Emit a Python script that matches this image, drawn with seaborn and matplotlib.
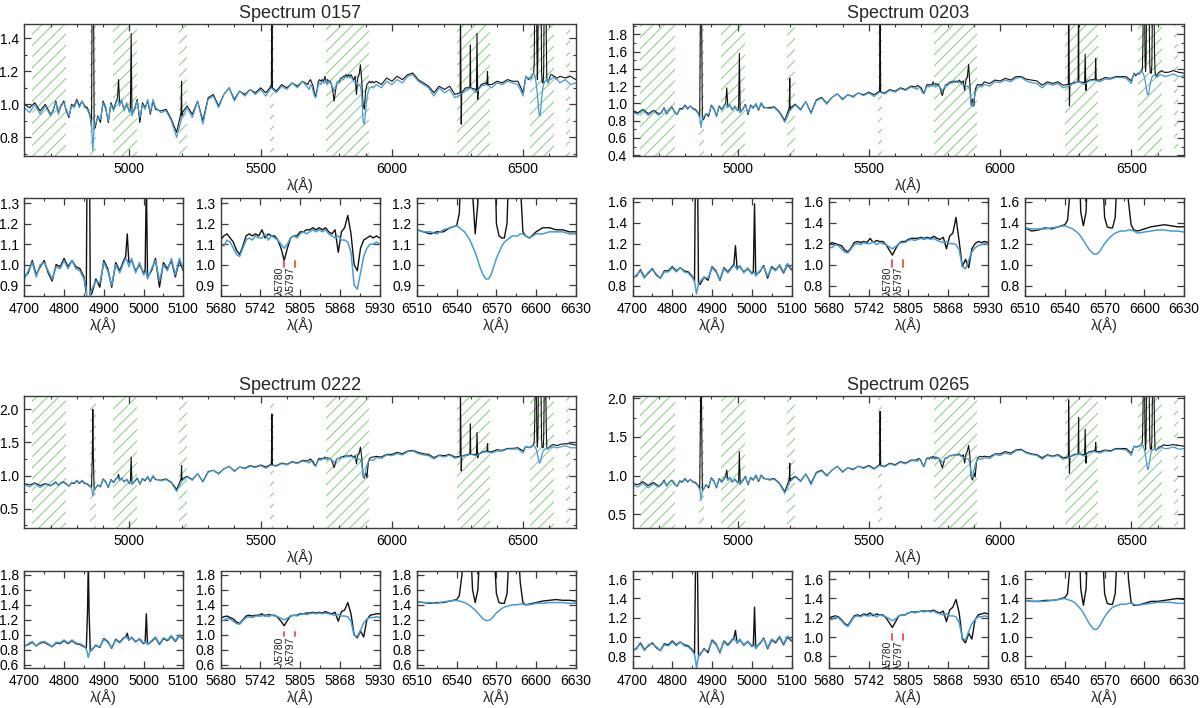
import numpy as np
import matplotlib
matplotlib.use("Agg")
import matplotlib.pyplot as plt
import seaborn as sns
from matplotlib.ticker import MultipleLocator, AutoMinorLocator, FixedLocator, FixedFormatter, FormatStrFormatter

sns.set_theme(style="ticks")
plt.rcParams["font.family"] = ["Liberation Sans", "DejaVu Sans"]
plt.rcParams["hatch.linewidth"] = 0.9
plt.rcParams["hatch.color"] = "#9fd49a"

# ---------------- wavelength grids (Angstrom) ----------------
wave_cont = np.concatenate([np.arange(4600, 4681, 20), np.arange(5120, 5661, 20),
                            np.arange(5940, 6501, 20), np.arange(6640, 6701, 20)])
wave_hb = np.array([4700, 4710, 4720, 4730, 4740, 4750, 4760, 4770, 4780, 4790, 4800, 4810, 4820, 4830, 4840, 4850,
                    4856, 4859, 4861, 4863, 4866,
                    4870, 4880, 4890, 4900, 4910, 4920, 4930, 4940, 4950,
                    4955, 4959, 4963,
                    4970, 4980, 4990, 5000,
                    5004, 5007, 5010,
                    5020, 5030, 5040, 5050, 5060, 5070, 5080, 5090, 5100])
wave_dib = np.arange(5680, 5931, 5)
wave_ha = np.concatenate([np.arange(6510, 6541, 5), np.arange(6542, 6593, 2), np.arange(6595, 6631, 5)])
wave_lines = np.array([5197, 5199, 5201, 5541, 5543, 5545, 6259, 6261, 6264, 6266,
                       6297, 6299, 6301, 6322, 6324, 6327, 6329, 6362, 6364, 6366])

# masked (hatched) wavelength intervals
mask_lo = [4630, 4852, 4938, 5188, 5535, 5748, 6248, 6527, 6663]
mask_hi = [4760, 4872, 5030, 5220, 5552, 5912, 6372, 6618, 6677]

# diffuse interstellar bands marked in the middle zoom
dib_wave = [5780, 5797]
dib_label = ["λ5780", "λ5797"]

# ---------------- Spectrum 0157 ----------------
model_0157_cont = [0.98, 0.95, 1.00, 0.94, 0.99,
                   0.95, 0.96, 0.90, 0.80, 0.92, 0.98, 0.92, 1.02, 0.88, 1.03, 1.05, 0.98, 1.06, 1.10,
                   1.02, 1.08, 1.05, 1.09, 1.06, 1.09, 1.05, 1.10, 1.07, 1.11, 1.09, 1.13, 1.10, 1.14,
                   1.12, 1.10, 1.14, 1.12, 1.15, 1.13, 1.17, 1.18, 1.14, 1.12, 1.10, 1.05, 1.10, 1.07, 1.09,
                   1.04, 1.06, 1.08, 1.10, 1.07, 1.11, 1.12, 1.10, 1.13, 1.12, 1.14, 1.13, 1.12, 1.05,
                   1.13, 1.15, 1.12, 1.13]
obs_0157_cont = [1.00, 0.98, 1.01, 0.96, 1.00,
                 0.96, 0.97, 0.91, 0.83, 0.93, 0.99, 0.94, 1.02, 0.90, 1.04, 1.06, 0.99, 1.06, 1.10,
                 1.03, 1.08, 1.06, 1.09, 1.07, 1.10, 1.07, 1.11, 1.08, 1.12, 1.10, 1.13, 1.11, 1.14,
                 1.14, 1.12, 1.16, 1.14, 1.17, 1.15, 1.18, 1.19, 1.15, 1.13, 1.11, 1.07, 1.11, 1.09, 1.11,
                 1.06, 1.08, 1.10, 1.11, 1.09, 1.12, 1.13, 1.12, 1.14, 1.13, 1.15, 1.14, 1.14, 1.07,
                 1.17, 1.16, 1.17, 1.15]
model_0157_hb = [0.93, 0.97, 1.01, 0.94, 1.00, 1.01, 0.97, 0.93, 0.99, 0.98, 1.02, 0.98, 1.02, 0.98, 0.97, 0.93,
                 0.88, 0.79, 0.72, 0.78, 0.86,
                 0.88, 0.92, 0.91, 1.01, 0.97, 0.90, 1.00, 0.96, 1.01,
                 1.03, 1.02, 0.99,
                 1.03, 0.96, 1.01, 0.95,
                 0.96, 0.97, 0.93,
                 0.98, 1.02, 0.92, 1.00, 0.97, 1.03, 0.95, 1.03, 0.98]
obs_0157_hb = [0.94, 0.96, 1.02, 0.95, 0.99, 1.02, 0.96, 0.92, 1.00, 0.99, 1.03, 0.99, 1.02, 0.99, 0.98, 0.94,
               0.86, 1.90, 2.30, 1.90, 0.85,
               0.86, 0.93, 0.89, 1.02, 0.98, 0.89, 1.01, 0.97, 1.02,
               1.04, 1.15, 1.01,
               1.02, 0.97, 1.00, 0.96,
               0.97, 1.43, 0.94,
               0.97, 1.03, 0.89, 1.01, 0.98, 1.02, 0.94, 1.02, 0.97]
model_0157_dib = [1.10, 1.09, 1.12, 1.11, 1.08, 1.05, 1.04, 1.08, 1.12, 1.13,
                  1.12, 1.14, 1.13, 1.13, 1.15, 1.12, 1.14, 1.13, 1.12, 1.10,
                  1.08, 1.10, 1.13, 1.14, 1.13, 1.15, 1.16, 1.15, 1.16, 1.17,
                  1.16, 1.17, 1.16, 1.17, 1.15, 1.14, 1.13, 1.14, 1.12, 1.12,
                  1.11, 1.06, 0.90, 0.88, 0.96, 1.04, 1.08, 1.10, 1.10, 1.11,
                  1.10]
obs_0157_dib = [1.12, 1.14, 1.15, 1.13, 1.11, 1.07, 1.05, 1.09, 1.14, 1.15,
                1.14, 1.15, 1.14, 1.17, 1.13, 1.15, 1.14, 1.14, 1.12, 1.08,
                1.02, 1.08, 1.13, 1.14, 1.14, 1.16, 1.16, 1.17, 1.17, 1.18,
                1.17, 1.18, 1.17, 1.18, 1.16, 1.15, 1.17, 1.06, 1.16, 1.18,
                1.24, 1.15, 1.00, 0.97, 1.08, 1.12, 1.13, 1.14, 1.13, 1.14,
                1.13]
model_0157_ha = [1.17, 1.16, 1.16, 1.15, 1.17, 1.18, 1.19,
                 1.18, 1.17, 1.16, 1.14, 1.12, 1.09, 1.06, 1.02, 0.98, 0.95, 0.93, 0.93, 0.95,
                 0.99, 1.03, 1.06, 1.09, 1.11, 1.12, 1.13, 1.14, 1.14, 1.14, 1.15, 1.15, 1.14,
                 1.13, 1.15, 1.15, 1.16, 1.16, 1.16, 1.15, 1.15]
obs_0157_ha = [1.17, 1.16, 1.15, 1.16, 1.16, 1.18, 1.19,
               1.25, 1.60, 2.50, 3.00, 2.20, 1.35, 1.15, 1.30, 2.00, 3.00, 3.50, 3.50, 3.00,
               1.80, 1.20, 1.14, 1.13, 1.13, 1.20, 1.60, 3.00, 3.00, 2.00, 1.40, 1.16, 1.14,
               1.13, 1.16, 1.18, 1.18, 1.17, 1.17, 1.16, 1.16]
obs_0157_lines = [0.95, 1.14, 0.95, 1.10, 1.65, 1.10, 1.07, 1.65, 0.88, 1.07,
                  1.10, 1.36, 1.10, 1.08, 1.43, 1.03, 1.09, 1.12, 1.20, 1.12]

# ---------------- Spectrum 0203 ----------------
model_0203_cont = [0.90, 0.87, 0.92, 0.86, 0.91,
                   0.94, 0.95, 0.89, 0.78, 0.92, 0.98, 0.92, 1.02, 0.88, 1.03, 1.06, 0.99, 1.07, 1.11,
                   1.04, 1.10, 1.07, 1.12, 1.09, 1.12, 1.08, 1.13, 1.11, 1.15, 1.13, 1.17, 1.15, 1.19,
                   1.22, 1.20, 1.25, 1.24, 1.27, 1.25, 1.29, 1.30, 1.26, 1.24, 1.23, 1.18, 1.23, 1.21, 1.23,
                   1.18, 1.20, 1.23, 1.25, 1.22, 1.26, 1.27, 1.25, 1.28, 1.28, 1.30, 1.30, 1.29, 1.23,
                   1.32, 1.34, 1.31, 1.32]
obs_0203_cont = [0.92, 0.89, 0.93, 0.88, 0.92,
                 0.95, 0.96, 0.90, 0.80, 0.93, 0.99, 0.93, 1.02, 0.89, 1.04, 1.07, 1.00, 1.07, 1.11,
                 1.05, 1.10, 1.08, 1.12, 1.10, 1.13, 1.10, 1.14, 1.12, 1.16, 1.14, 1.18, 1.16, 1.20,
                 1.25, 1.23, 1.27, 1.26, 1.29, 1.27, 1.31, 1.31, 1.28, 1.27, 1.26, 1.21, 1.25, 1.23, 1.25,
                 1.21, 1.22, 1.24, 1.26, 1.24, 1.27, 1.28, 1.27, 1.30, 1.29, 1.31, 1.31, 1.31, 1.26,
                 1.36, 1.38, 1.36, 1.35]
model_0203_hb = [0.86, 0.90, 0.94, 0.87, 0.93, 0.95, 0.91, 0.87, 0.93, 0.93, 0.97, 0.93, 0.97, 0.93, 0.92, 0.88,
                 0.84, 0.77, 0.72, 0.76, 0.82,
                 0.84, 0.88, 0.87, 0.97, 0.93, 0.86, 0.96, 0.92, 0.97,
                 0.99, 0.98, 0.95,
                 0.99, 0.92, 0.97, 0.91,
                 0.92, 0.93, 0.89,
                 0.94, 0.98, 0.89, 0.97, 0.94, 1.00, 0.93, 1.01, 0.96]
obs_0203_hb = [0.88, 0.89, 0.95, 0.88, 0.92, 0.96, 0.90, 0.87, 0.94, 0.94, 0.98, 0.94, 0.97, 0.94, 0.93, 0.89,
               0.84, 2.20, 2.80, 2.20, 0.82,
               0.81, 0.88, 0.85, 0.98, 0.94, 0.85, 0.97, 0.93, 0.98,
               1.00, 1.18, 0.97,
               0.98, 0.93, 0.96, 0.92,
               0.93, 1.58, 0.90,
               0.93, 0.99, 0.87, 0.98, 0.95, 0.99, 0.92, 1.00, 0.95]
model_0203_dib = [1.17, 1.16, 1.19, 1.18, 1.15, 1.12, 1.11, 1.15, 1.19, 1.20,
                  1.19, 1.21, 1.20, 1.20, 1.22, 1.19, 1.21, 1.20, 1.19, 1.17,
                  1.15, 1.17, 1.20, 1.21, 1.21, 1.23, 1.24, 1.23, 1.24, 1.25,
                  1.24, 1.25, 1.24, 1.25, 1.23, 1.22, 1.21, 1.22, 1.20, 1.20,
                  1.19, 1.14, 0.98, 0.96, 1.04, 1.12, 1.16, 1.18, 1.19, 1.20,
                  1.19]
obs_0203_dib = [1.19, 1.21, 1.20, 1.19, 1.18, 1.14, 1.12, 1.16, 1.21, 1.22,
                1.21, 1.22, 1.21, 1.25, 1.21, 1.23, 1.22, 1.22, 1.19, 1.14,
                1.09, 1.15, 1.20, 1.22, 1.22, 1.24, 1.25, 1.25, 1.25, 1.26,
                1.25, 1.26, 1.25, 1.27, 1.25, 1.24, 1.26, 1.15, 1.27, 1.30,
                1.45, 1.22, 0.98, 1.05, 0.97, 1.15, 1.20, 1.22, 1.21, 1.22,
                1.21]
model_0203_ha = [1.35, 1.34, 1.34, 1.34, 1.35, 1.36, 1.37,
                 1.36, 1.35, 1.34, 1.32, 1.30, 1.27, 1.23, 1.19, 1.15, 1.12, 1.10, 1.10, 1.12,
                 1.16, 1.20, 1.23, 1.26, 1.28, 1.30, 1.31, 1.32, 1.32, 1.32, 1.33, 1.33, 1.32,
                 1.30, 1.31, 1.32, 1.33, 1.33, 1.32, 1.32, 1.31]
obs_0203_ha = [1.35, 1.32, 1.33, 1.35, 1.34, 1.36, 1.38,
               1.42, 1.70, 2.50, 3.00, 2.30, 1.50, 1.37, 1.50, 2.20, 3.00, 3.50, 3.50, 3.00,
               2.00, 1.45, 1.36, 1.35, 1.35, 1.45, 2.00, 3.00, 3.00, 2.20, 1.60, 1.38, 1.33,
               1.32, 1.34, 1.36, 1.37, 1.38, 1.37, 1.36, 1.36]
obs_0203_lines = [0.95, 1.29, 0.95, 1.13, 2.30, 1.13, 1.22, 2.50, 0.97, 1.22,
                  1.25, 2.40, 1.25, 1.24, 1.57, 1.15, 1.25, 1.27, 1.52, 1.27]

# ---------------- Spectrum 0222 ----------------
model_0222_cont = [0.86, 0.83, 0.88, 0.82, 0.87,
                   0.92, 0.94, 0.89, 0.76, 0.92, 0.98, 0.93, 1.03, 0.90, 1.05, 1.08, 1.02, 1.10, 1.14,
                   1.06, 1.13, 1.10, 1.14, 1.12, 1.15, 1.11, 1.16, 1.14, 1.18, 1.16, 1.20, 1.18, 1.22,
                   1.27, 1.26, 1.31, 1.30, 1.33, 1.31, 1.36, 1.37, 1.33, 1.31, 1.30, 1.25, 1.30, 1.28, 1.31,
                   1.26, 1.28, 1.30, 1.32, 1.30, 1.34, 1.36, 1.34, 1.37, 1.37, 1.40, 1.40, 1.40, 1.34,
                   1.43, 1.45, 1.42, 1.42]
obs_0222_cont = [0.88, 0.86, 0.89, 0.85, 0.88,
                 0.93, 0.95, 0.90, 0.79, 0.93, 0.99, 0.94, 1.03, 0.91, 1.06, 1.08, 1.03, 1.10, 1.14,
                 1.07, 1.13, 1.11, 1.15, 1.13, 1.16, 1.13, 1.17, 1.15, 1.19, 1.17, 1.21, 1.19, 1.23,
                 1.29, 1.28, 1.32, 1.32, 1.35, 1.33, 1.37, 1.38, 1.35, 1.33, 1.32, 1.27, 1.31, 1.30, 1.32,
                 1.28, 1.29, 1.31, 1.33, 1.32, 1.35, 1.37, 1.36, 1.39, 1.38, 1.41, 1.41, 1.42, 1.37,
                 1.47, 1.48, 1.48, 1.46]
model_0222_hb = [0.84, 0.88, 0.91, 0.85, 0.90, 0.91, 0.88, 0.84, 0.90, 0.89, 0.93, 0.89, 0.93, 0.89, 0.88, 0.85,
                 0.81, 0.75, 0.70, 0.74, 0.79,
                 0.81, 0.85, 0.84, 0.94, 0.90, 0.83, 0.93, 0.89, 0.95,
                 0.97, 0.96, 0.93,
                 0.97, 0.90, 0.95, 0.89,
                 0.90, 0.91, 0.87,
                 0.92, 0.97, 0.88, 0.96, 0.93, 0.99, 0.92, 1.00, 0.95]
obs_0222_hb = [0.85, 0.87, 0.90, 0.85, 0.89, 0.90, 0.87, 0.84, 0.89, 0.88, 0.92, 0.88, 0.92, 0.88, 0.87, 0.84,
               0.82, 1.30, 2.00, 1.30, 0.78,
               0.80, 0.86, 0.83, 0.95, 0.91, 0.82, 0.94, 0.90, 0.96,
               0.97, 1.02, 0.93,
               0.96, 0.91, 0.94, 0.88,
               0.90, 1.28, 0.87,
               0.91, 0.96, 0.87, 0.95, 0.92, 0.98, 0.91, 0.99, 0.94]
model_0222_dib = [1.20, 1.19, 1.22, 1.21, 1.18, 1.15, 1.14, 1.19, 1.23, 1.24,
                  1.23, 1.25, 1.25, 1.25, 1.27, 1.24, 1.26, 1.25, 1.24, 1.22,
                  1.20, 1.22, 1.25, 1.26, 1.25, 1.27, 1.28, 1.27, 1.28, 1.29,
                  1.28, 1.29, 1.28, 1.29, 1.28, 1.27, 1.26, 1.27, 1.25, 1.25,
                  1.24, 1.18, 0.99, 0.98, 1.06, 1.16, 1.21, 1.23, 1.23, 1.24,
                  1.23]
obs_0222_dib = [1.22, 1.24, 1.25, 1.23, 1.21, 1.17, 1.15, 1.20, 1.25, 1.26,
                1.25, 1.26, 1.26, 1.28, 1.25, 1.27, 1.26, 1.26, 1.23, 1.18,
                1.12, 1.19, 1.25, 1.26, 1.26, 1.28, 1.28, 1.29, 1.29, 1.30,
                1.29, 1.30, 1.29, 1.31, 1.29, 1.28, 1.30, 1.18, 1.31, 1.33,
                1.43, 1.28, 1.00, 0.96, 1.05, 0.97, 1.20, 1.26, 1.27, 1.28,
                1.28]
model_0222_ha = [1.44, 1.43, 1.43, 1.42, 1.44, 1.45, 1.46,
                 1.45, 1.44, 1.43, 1.41, 1.39, 1.36, 1.33, 1.29, 1.25, 1.21, 1.19, 1.19, 1.21,
                 1.25, 1.29, 1.32, 1.35, 1.37, 1.38, 1.39, 1.40, 1.40, 1.40, 1.41, 1.41, 1.40,
                 1.40, 1.42, 1.42, 1.43, 1.43, 1.43, 1.42, 1.42]
obs_0222_ha = [1.44, 1.43, 1.42, 1.43, 1.43, 1.45, 1.47,
               1.52, 1.80, 2.50, 3.00, 2.40, 1.60, 1.43, 1.60, 2.30, 3.00, 3.50, 3.50, 3.00,
               2.20, 1.55, 1.43, 1.42, 1.42, 1.55, 2.20, 3.00, 3.00, 2.30, 1.70, 1.43, 1.40,
               1.41, 1.43, 1.45, 1.46, 1.47, 1.46, 1.46, 1.45]
obs_0222_lines = [0.95, 1.15, 0.95, 1.16, 1.93, 1.16, 1.29, 2.40, 1.07, 1.29,
                  1.32, 1.78, 1.32, 1.31, 1.65, 1.27, 1.32, 1.36, 1.48, 1.36]

# ---------------- Spectrum 0265 ----------------
model_0265_cont = [0.88, 0.85, 0.90, 0.84, 0.89,
                   0.94, 0.95, 0.89, 0.77, 0.92, 0.98, 0.92, 1.02, 0.88, 1.03, 1.06, 0.99, 1.07, 1.12,
                   1.04, 1.10, 1.07, 1.12, 1.09, 1.12, 1.08, 1.13, 1.11, 1.15, 1.13, 1.17, 1.15, 1.19,
                   1.23, 1.22, 1.27, 1.26, 1.29, 1.27, 1.32, 1.33, 1.29, 1.27, 1.26, 1.21, 1.26, 1.24, 1.26,
                   1.21, 1.23, 1.26, 1.28, 1.25, 1.30, 1.31, 1.29, 1.32, 1.31, 1.34, 1.34, 1.33, 1.26,
                   1.35, 1.37, 1.34, 1.35]
obs_0265_cont = [0.90, 0.88, 0.92, 0.87, 0.91,
                 0.95, 0.96, 0.90, 0.79, 0.93, 0.99, 0.93, 1.02, 0.90, 1.04, 1.07, 1.00, 1.07, 1.12,
                 1.05, 1.10, 1.08, 1.12, 1.10, 1.13, 1.09, 1.14, 1.12, 1.16, 1.14, 1.18, 1.16, 1.20,
                 1.25, 1.24, 1.28, 1.28, 1.31, 1.29, 1.33, 1.34, 1.30, 1.28, 1.27, 1.23, 1.27, 1.25, 1.27,
                 1.23, 1.24, 1.27, 1.29, 1.27, 1.31, 1.32, 1.31, 1.33, 1.32, 1.35, 1.35, 1.35, 1.29,
                 1.39, 1.40, 1.39, 1.38]
model_0265_hb = [0.85, 0.89, 0.93, 0.86, 0.92, 0.93, 0.90, 0.86, 0.92, 0.91, 0.95, 0.91, 0.95, 0.91, 0.90, 0.86,
                 0.82, 0.75, 0.68, 0.73, 0.80,
                 0.83, 0.87, 0.86, 0.96, 0.92, 0.85, 0.95, 0.91, 0.96,
                 0.98, 0.97, 0.94,
                 0.98, 0.91, 0.96, 0.90,
                 0.91, 0.92, 0.88,
                 0.94, 0.98, 0.89, 0.98, 0.95, 1.01, 0.93, 1.01, 0.97]
obs_0265_hb = [0.86, 0.88, 0.94, 0.87, 0.91, 0.94, 0.89, 0.86, 0.93, 0.92, 0.96, 0.92, 0.95, 0.92, 0.91, 0.87,
               0.83, 1.90, 2.50, 1.90, 0.80,
               0.82, 0.88, 0.84, 0.97, 0.93, 0.84, 0.96, 0.92, 0.97,
               0.99, 1.07, 0.94,
               0.97, 0.92, 0.95, 0.91,
               0.92, 1.31, 0.89,
               0.93, 0.99, 0.88, 0.97, 0.94, 1.00, 0.92, 1.00, 0.96]
model_0265_dib = [1.19, 1.18, 1.21, 1.20, 1.17, 1.13, 1.11, 1.16, 1.21, 1.22,
                  1.21, 1.23, 1.22, 1.22, 1.24, 1.21, 1.23, 1.22, 1.21, 1.19,
                  1.17, 1.19, 1.22, 1.23, 1.23, 1.25, 1.26, 1.25, 1.26, 1.27,
                  1.26, 1.27, 1.26, 1.27, 1.25, 1.24, 1.23, 1.24, 1.22, 1.22,
                  1.21, 1.15, 0.99, 0.97, 1.06, 1.14, 1.18, 1.21, 1.21, 1.22,
                  1.21]
obs_0265_dib = [1.20, 1.21, 1.22, 1.21, 1.18, 1.14, 1.12, 1.17, 1.22, 1.23,
                1.22, 1.24, 1.23, 1.25, 1.22, 1.24, 1.23, 1.23, 1.20, 1.15,
                1.10, 1.16, 1.22, 1.23, 1.23, 1.25, 1.26, 1.26, 1.26, 1.27,
                1.27, 1.27, 1.27, 1.28, 1.26, 1.25, 1.27, 1.16, 1.28, 1.31,
                1.39, 1.25, 0.98, 0.94, 1.04, 0.98, 1.18, 1.23, 1.24, 1.25,
                1.24]
model_0265_ha = [1.38, 1.37, 1.37, 1.37, 1.38, 1.39, 1.40,
                 1.39, 1.38, 1.37, 1.35, 1.32, 1.29, 1.25, 1.20, 1.15, 1.11, 1.08, 1.08, 1.11,
                 1.16, 1.21, 1.25, 1.28, 1.31, 1.32, 1.33, 1.34, 1.34, 1.34, 1.35, 1.35, 1.34,
                 1.33, 1.34, 1.35, 1.36, 1.36, 1.36, 1.35, 1.35]
obs_0265_ha = [1.38, 1.37, 1.37, 1.38, 1.38, 1.39, 1.41,
               1.45, 1.75, 2.50, 3.00, 2.30, 1.50, 1.33, 1.50, 2.20, 3.00, 3.50, 3.50, 3.00,
               2.00, 1.45, 1.35, 1.34, 1.34, 1.45, 2.00, 3.00, 3.00, 2.20, 1.60, 1.36, 1.33,
               1.33, 1.35, 1.37, 1.37, 1.38, 1.39, 1.40, 1.39]
obs_0265_lines = [0.95, 1.16, 0.95, 1.13, 1.83, 1.13, 1.24, 1.98, 1.03, 1.24,
                  1.28, 1.75, 1.28, 1.27, 1.60, 1.16, 1.28, 1.31, 1.43, 1.31]

# ---------------- per-spectrum axis settings ----------------
names = ["0157", "0203", "0222", "0265"]
main_ylim = [(0.687, 1.487), (0.39, 1.92), (0.21, 2.20), (0.32, 2.03)]
main_ystep = [0.2, 0.2, 0.5, 0.5]
zoom_ylim = [(0.847, 1.325), (0.70, 1.635), (0.556, 1.858), (0.68, 1.69)]
zoom_ystep = [0.1, 0.2, 0.2, 0.2]
mark_lo = [0.99, 0.98, 0.98, 0.965]
mark_hi = [1.02, 1.04, 1.04, 1.035]

zoom_xlim = [(4700, 5100), (5680, 5930), (6510, 6630)]
zoom_xticks = [[4700, 4800, 4900, 5000, 5100],
               [5680, 5742.5, 5805, 5867.5, 5930],
               [6510, 6540, 6570, 6600, 6630]]
zoom_xticklabels = [["4700", "4800", "4900", "5000", "5100"],
                    ["5680", "5742", "5805", "5868", "5930"],
                    ["6510", "6540", "6570", "6600", "6630"]]

model_sets = {
    "0157": (model_0157_cont, model_0157_hb, model_0157_dib, model_0157_ha),
    "0203": (model_0203_cont, model_0203_hb, model_0203_dib, model_0203_ha),
    "0222": (model_0222_cont, model_0222_hb, model_0222_dib, model_0222_ha),
    "0265": (model_0265_cont, model_0265_hb, model_0265_dib, model_0265_ha),
}
obs_sets = {
    "0157": (obs_0157_cont, obs_0157_hb, obs_0157_dib, obs_0157_ha, obs_0157_lines),
    "0203": (obs_0203_cont, obs_0203_hb, obs_0203_dib, obs_0203_ha, obs_0203_lines),
    "0222": (obs_0222_cont, obs_0222_hb, obs_0222_dib, obs_0222_ha, obs_0222_lines),
    "0265": (obs_0265_cont, obs_0265_hb, obs_0265_dib, obs_0265_ha, obs_0265_lines),
}

OBS_COLOR = "#111111"
MODEL_COLOR = "#4a9bd1"
RED = "#e8604c"
GREEN = "#9fd49a"
FRAME = "#3a3a3a"

# ---------------- layout (pixels) ----------------
W, H = 1200, 708
quad_x0 = [24.3, 632.5, 24.3, 632.5]
main_y = [(24, 156), (24, 156), (396, 528), (396, 528)]
zoom_y = [(198, 296), (198, 296), (570.5, 668), (570.5, 668)]
MAIN_W = 551.4
ZOOM_W = 159.0
ZOOM_STEP = 196.3


def rect(x0, y0, x1, y1):
    return [x0 / W, 1 - y1 / H, (x1 - x0) / W, (y1 - y0) / H]


def style(ax):
    ax.set_facecolor("white")
    ax.tick_params(which="both", direction="in", top=True, right=True,
                   labelsize=10, pad=4, color=FRAME, labelcolor="black")
    ax.tick_params(which="major", length=5, width=0.9)
    ax.tick_params(which="minor", length=2.5, width=0.8)
    for s in ax.spines.values():
        s.set_color(FRAME)
        s.set_linewidth(1.0)


def draw(ax, w, f, color, lw):
    sns.lineplot(x=np.asarray(w, float), y=np.asarray(f, float), ax=ax, color=color,
                 linewidth=lw, estimator=None, sort=True, legend=False)


fig = plt.figure(figsize=(12, 7.08), dpi=100)
fig.patch.set_facecolor("white")

for i, name in enumerate(names):
    m_cont, m_hb, m_dib, m_ha = model_sets[name]
    o_cont, o_hb, o_dib, o_ha, o_lines = obs_sets[name]
    w_model = np.concatenate([wave_cont, wave_hb, wave_dib, wave_ha])
    f_model = np.concatenate([m_cont, m_hb, m_dib, m_ha])
    w_obs = np.concatenate([wave_cont, wave_hb, wave_dib, wave_ha, wave_lines])
    f_obs = np.concatenate([o_cont, o_hb, o_dib, o_ha, o_lines])

    # ---- main (full range) panel ----
    x0 = quad_x0[i]
    ya, yb = main_y[i]
    ax = fig.add_axes(rect(x0, ya, x0 + MAIN_W, yb))
    style(ax)
    for lo, hi in zip(mask_lo, mask_hi):
        ax.axvspan(lo, hi, facecolor="none", edgecolor=GREEN, hatch="///",
                   linewidth=0, zorder=0.5)
    draw(ax, w_obs, f_obs, OBS_COLOR, 0.8)
    draw(ax, w_model, f_model, MODEL_COLOR, 0.9)
    ax.set_xlim(4600, 6700)
    ax.set_ylim(*main_ylim[i])
    ax.xaxis.set_major_locator(MultipleLocator(500))
    ax.xaxis.set_minor_locator(MultipleLocator(100))
    ax.yaxis.set_major_locator(MultipleLocator(main_ystep[i]))
    ax.yaxis.set_minor_locator(AutoMinorLocator(2))
    ax.yaxis.set_major_formatter(FormatStrFormatter("%.1f"))
    ax.set_xlabel("λ(Å)", fontsize=10.5, labelpad=1)
    ax.set_ylabel("")
    ax.set_title(f"Spectrum {name}", fontsize=13, pad=4)

    # ---- three zoom panels ----
    za, zb = zoom_y[i]
    for j in range(3):
        zx0 = x0 + j * ZOOM_STEP
        az = fig.add_axes(rect(zx0, za, zx0 + ZOOM_W, zb))
        style(az)
        draw(az, w_obs, f_obs, OBS_COLOR, 1.0)
        draw(az, w_model, f_model, MODEL_COLOR, 1.1)
        az.set_xlim(*zoom_xlim[j])
        az.set_ylim(*zoom_ylim[i])
        az.xaxis.set_major_locator(FixedLocator(zoom_xticks[j]))
        az.xaxis.set_major_formatter(FixedFormatter(zoom_xticklabels[j]))
        az.xaxis.set_minor_locator(AutoMinorLocator(2))
        az.yaxis.set_major_locator(MultipleLocator(zoom_ystep[i]))
        az.yaxis.set_major_formatter(FormatStrFormatter("%.1f"))
        az.set_xlabel("λ(Å)", fontsize=10.5, labelpad=1)
        az.set_ylabel("")
        if j == 1:
            for wl, lab in zip(dib_wave, dib_label):
                az.plot([wl, wl], [mark_lo[i], mark_hi[i]], color=RED, lw=1.4, zorder=4)
                az.text(wl + 1.0, mark_lo[i], lab, rotation=90, ha="right", va="top",
                        fontsize=7.5, color="#222222")

fig.savefig("out.png", dpi=100, facecolor="white")
